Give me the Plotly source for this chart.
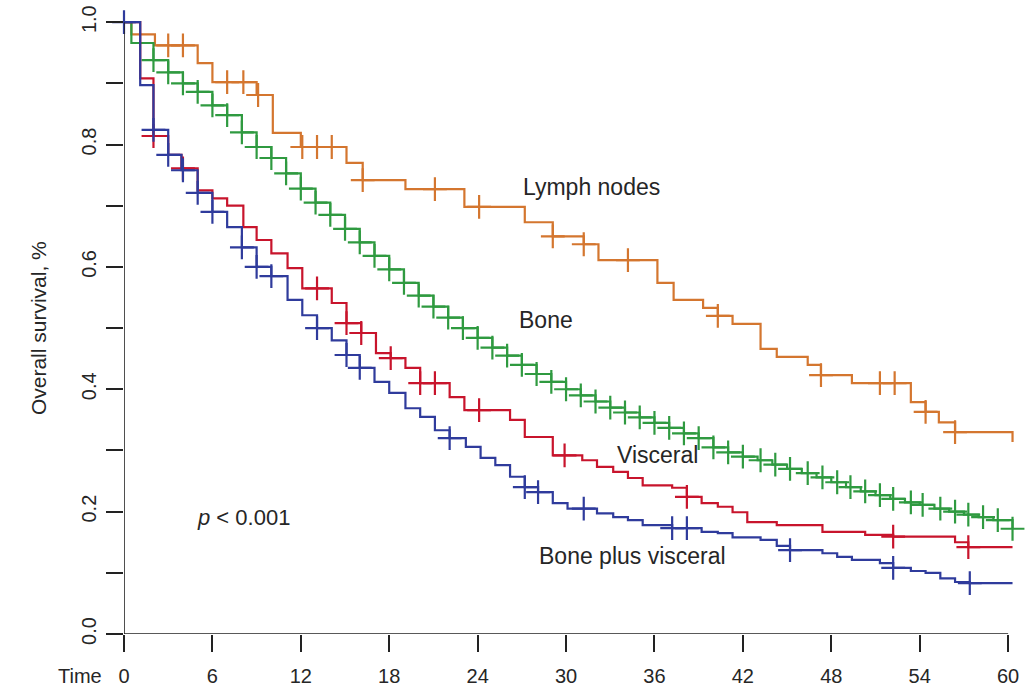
import numpy as np
import plotly.graph_objects as go

# ---------------- data ----------------
lymph_t = [0, 0.5, 2.1, 5.0, 6.0, 9.0, 10.1, 12.0, 15.1, 16.2, 19.1, 23.1, 27.2, 29.1,
           31.2, 32.2, 36.2, 37.3, 39.3, 40.3, 41.3, 43.2, 44.3, 46.4, 47.3, 49.4,
           53.4, 54.4, 55.3, 56.4, 60.3]
lymph_s = [1.0, 0.980, 0.962, 0.933, 0.902, 0.881, 0.819, 0.796, 0.770, 0.742, 0.727,
           0.698, 0.673, 0.650, 0.637, 0.611, 0.574, 0.546, 0.533, 0.520, 0.507, 0.466,
           0.453, 0.440, 0.423, 0.410, 0.379, 0.363, 0.346, 0.330, 0.314]
lymph_cens = [3.0, 4.0, 7.0, 8.1, 9.1, 12.1, 13.1, 14.1, 16.2, 21.1, 24.1, 29.1, 31.2,
              34.2, 40.3, 47.3, 51.3, 52.3, 54.4, 56.4]

bone_t = [0, 0.5, 2, 3, 4, 5, 6, 7, 8, 9, 10, 11, 12, 13, 14, 15, 16, 17, 18, 19, 20,
          21, 22, 23, 24, 25, 26, 27, 28, 29, 30, 31, 32, 33, 34, 35, 36, 37, 38, 39,
          40, 41, 42, 43, 44, 45, 46, 47, 48, 49, 50, 51, 52, 53, 54, 55, 56, 57, 58,
          59, 60.3]
bone_s = [1.0, 0.966, 0.938, 0.918, 0.900, 0.886, 0.864, 0.848, 0.820, 0.796, 0.778,
          0.753, 0.728, 0.705, 0.685, 0.662, 0.640, 0.618, 0.596, 0.574, 0.553, 0.535,
          0.517, 0.500, 0.484, 0.468, 0.455, 0.440, 0.425, 0.412, 0.400, 0.390, 0.380,
          0.370, 0.362, 0.354, 0.345, 0.337, 0.328, 0.320, 0.305, 0.297, 0.290, 0.284,
          0.277, 0.270, 0.263, 0.256, 0.248, 0.240, 0.233, 0.227, 0.221, 0.215, 0.211,
          0.205, 0.200, 0.195, 0.191, 0.186, 0.172]
bone_cens = [2.0, 3.0, 4.0, 5.0, 6.0, 7.0, 8.0, 9.0, 10.0, 11.0, 12.0, 13.0, 14.0, 15.0,
             16.0, 17.0, 18.0, 19.0, 20.0, 21.0, 22.0, 23.0, 24.0, 25.0, 26.0, 27.0,
             28.0, 29.0, 30.0, 31.0, 32.0, 33.0, 34.0, 35.0, 36.0, 37.0, 38.0, 39.0,
             40.0, 41.0, 42.0, 43.2, 44.2, 45.2, 46.4, 47.4, 48.4, 49.3, 50.3, 51.3,
             52.2, 53.4, 54.2, 55.4, 56.4, 57.3, 58.3, 59.3, 60.3]

visc_t = [0, 1.1, 2.0, 3.0, 3.9, 5.0, 6.0, 7.0, 8.1, 9.0, 10.0, 11.1, 12.1, 14.1, 15.1,
          16.1, 17.1, 18.1, 19.1, 20.1, 22.1, 23.1, 26.2, 27.2, 29.1, 31.1, 32.1, 33.2,
          34.2, 35.2, 37.2, 38.2, 39.2, 40.3, 41.3, 42.3, 44.3, 47.4, 50.3, 52.2, 56.4,
          57.3, 60.3]
visc_s = [1.0, 0.908, 0.814, 0.783, 0.761, 0.725, 0.712, 0.700, 0.665, 0.644, 0.622,
          0.598, 0.565, 0.541, 0.508, 0.492, 0.459, 0.451, 0.435, 0.410, 0.387, 0.366,
          0.350, 0.322, 0.292, 0.284, 0.273, 0.265, 0.255, 0.243, 0.239, 0.224, 0.214,
          0.208, 0.199, 0.183, 0.178, 0.167, 0.162, 0.159, 0.150, 0.142, 0.142]
visc_cens = [2.0, 4.0, 13.1, 15.1, 16.1, 18.1, 20.1, 21.1, 24.1, 29.9, 38.2, 52.2, 57.3]

bpv_t = [0, 1.1, 2.0, 3.0, 3.9, 5.0, 6.0, 7.0, 8.0, 9.0, 10.0, 11.1, 12.1, 13.1, 14.1,
         15.1, 16.0, 17.0, 18.0, 19.1, 20.1, 21.1, 22.1, 23.2, 24.2, 25.2, 26.2, 27.2,
         28.1, 29.1, 30.1, 32.1, 33.2, 34.2, 35.2, 37.2, 39.2, 40.3, 41.3, 43.2, 44.3,
         45.2, 47.4, 48.4, 49.4, 51.3, 52.2, 53.4, 54.4, 55.4, 56.4, 57.4, 60.3]
bpv_s = [1.0, 0.897, 0.824, 0.783, 0.758, 0.721, 0.690, 0.665, 0.632, 0.600, 0.585,
         0.546, 0.521, 0.500, 0.480, 0.456, 0.435, 0.412, 0.394, 0.369, 0.355, 0.333,
         0.320, 0.306, 0.288, 0.276, 0.257, 0.240, 0.232, 0.214, 0.205, 0.197, 0.191,
         0.186, 0.178, 0.173, 0.167, 0.165, 0.158, 0.154, 0.144, 0.137, 0.132, 0.126,
         0.121, 0.116, 0.108, 0.103, 0.100, 0.091, 0.085, 0.083, 0.083]
bpv_cens = [0.0, 2.0, 3.0, 4.0, 5.0, 6.0, 8.0, 9.0, 10.0, 13.1, 15.1, 16.0, 22.1, 27.2,
            28.1, 31.2, 37.2, 38.2, 45.2, 52.2, 57.4]

x_ticks = [0, 6, 12, 18, 24, 30, 36, 42, 48, 54, 60]
y_ticks = [0.0, 0.1, 0.2, 0.3, 0.4, 0.5, 0.6, 0.7, 0.8, 0.9, 1.0]
y_ticktext = ["0.0", "", "0.2", "", "0.4", "", "0.6", "", "0.8", "", "1.0"]

groups = [
    ("Lymph nodes", lymph_t, lymph_s, lymph_cens, "#D4762F"),
    ("Bone", bone_t, bone_s, bone_cens, "#2F9A40"),
    ("Visceral", visc_t, visc_s, visc_cens, "#C8142C"),
    ("Bone plus visceral", bpv_t, bpv_s, bpv_cens, "#2F3B9C"),
]

labels = [
    ("Lymph nodes", 31.7, 0.730),
    ("Bone", 28.65, 0.513),
    ("Visceral", 36.2, 0.292),
    ("Bone plus visceral", 34.5, 0.127),
]

FONT = "Liberation Sans, Arial, sans-serif"
TXT = "#262626"

fig = go.Figure()
for name, t, s, cens, col in groups:
    fig.add_trace(go.Scatter(x=t, y=s, mode="lines", line=dict(color=col, width=2.2, shape="hv"),
                             name=name, showlegend=False, hoverinfo="skip"))
    ta = np.array(t)
    sa = np.array(s)
    idx = np.searchsorted(ta, np.array(cens), side="right") - 1
    fig.add_trace(go.Scatter(x=cens, y=sa[idx], mode="markers", cliponaxis=False,
                             marker=dict(symbol="cross-thin", size=17,
                                         line=dict(color=col, width=2.2)),
                             showlegend=False, hoverinfo="skip"))

for text, x, y in labels:
    fig.add_annotation(x=x, y=y, xref="x", yref="y", text=text, showarrow=False,
                       xanchor="center", yanchor="middle",
                       font=dict(family=FONT, size=23, color=TXT))

fig.add_annotation(x=8.1, y=0.191, xref="x", yref="y", text="<i>p</i> &lt; 0.001",
                   showarrow=False, xanchor="center", yanchor="middle",
                   font=dict(family=FONT, size=22, color=TXT))
fig.add_annotation(x=-0.0494, y=-0.0676, xref="paper", yref="paper", text="Time",
                   showarrow=False, xanchor="center", yanchor="middle",
                   font=dict(family=FONT, size=20, color=TXT))
fig.add_annotation(x=-0.0966, y=0.4926, xref="paper", yref="paper",
                   text="Overall survival, %", textangle=-90, showarrow=False,
                   xanchor="center", yanchor="middle",
                   font=dict(family=FONT, size=21, color=TXT))

# axis lines (R style, spanning only the tick range)
fig.add_shape(type="line", x0=0, x1=60, y0=0, y1=0, xref="x", yref="y",
              line=dict(color="#222222", width=1.6))
fig.add_shape(type="line", x0=0, x1=0, y0=0, y1=1.0, xref="x", yref="y",
              line=dict(color="#222222", width=1.6))

fig.update_layout(
    width=1028, height=690,
    margin=dict(l=124, r=14, t=13, b=56, autoexpand=False),
    paper_bgcolor="white", plot_bgcolor="white",
    font=dict(family=FONT, size=20, color=TXT),
    xaxis=dict(range=[0, 60.4], tickmode="array", tickvals=x_ticks,
               ticktext=[str(v) for v in x_ticks], ticks="outside", ticklen=17,
               tickwidth=1.6, tickcolor="#222222", showgrid=False, zeroline=False,
               showline=False, tickfont=dict(size=20, color=TXT), ticklabelstandoff=7,
               automargin=False),
    yaxis=dict(range=[0, 1.015], tickmode="array", tickvals=y_ticks, ticktext=y_ticktext,
               ticks="outside", ticklen=17, tickwidth=1.6, tickcolor="#222222",
               showgrid=False, zeroline=False, showline=False, tickangle=-90,
               tickfont=dict(size=20, color=TXT), ticklabelstandoff=2,
               automargin=False),
)

fig.write_html("out.html")
